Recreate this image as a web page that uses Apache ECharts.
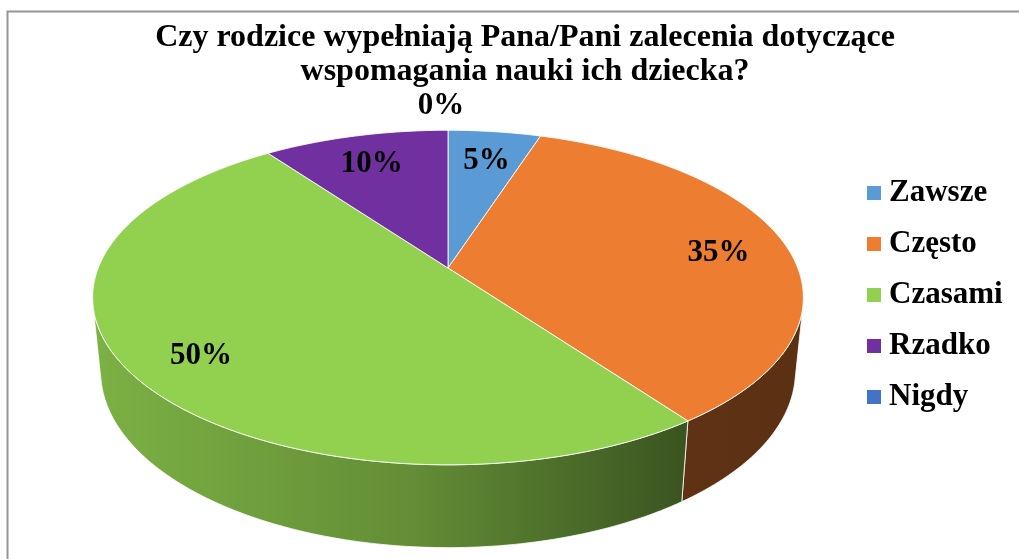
<!DOCTYPE html>
<html>
<head>
<meta charset="utf-8">
<script src="https://cdn.jsdelivr.net/npm/echarts@6/dist/echarts.min.js"></script>
<style>
  html, body { margin: 0; padding: 0; background: #fff; }
  #chart { width: 1019px; height: 559px; }
</style>
</head>
<body>
<div id="chart"></div>
<script>
const categories = ['Zawsze', 'Często', 'Czasami', 'Rzadko', 'Nigdy']
const values = [5, 35, 50, 10, 0]
const colors = ['#5B9BD5', '#ED7D31', '#92D050', '#7030A0', '#4472C4']
const titleText = 'Czy rodzice wypełniają Pana/Pani zalecenia dotyczące\nwspomagania nauki ich dziecka?'

// fake 3d: a disc seen in perspective
const CX = 448, CY = 268, F = 1756, DIST = 5.02, THICK = 0.24
const TILT = 27.6 * Math.PI / 180
const S = Math.sin(TILT), C = Math.cos(TILT)
const VIS0 = Math.acos(-1 / (DIST * C)), VIS1 = 2 * Math.PI - VIS0
const FONT = '"Liberation Serif", "Times New Roman", serif'

function proj(theta, r, h) {
  const px = r * Math.sin(theta), pz = -r * Math.cos(theta)
  const sv = h * C - pz * S
  const depth = DIST - (h * S + pz * C)
  return [CX + F * px / depth, CY - F * sv / depth]
}

const total = values.reduce((a, b) => a + b, 0)
const angles = []
let cum = 0
values.forEach(v => {
  angles.push([cum / total * 2 * Math.PI, (cum + v) / total * 2 * Math.PI])
  cum += v
})

function shade(hex, k) {
  const n = parseInt(hex.slice(1), 16)
  const r = Math.round((n >> 16 & 255) * k), g = Math.round((n >> 8 & 255) * k), b = Math.round((n & 255) * k)
  return 'rgb(' + r + ',' + g + ',' + b + ')'
}

function arc(a, b, r, h) {
  const pts = []
  const n = Math.max(2, Math.ceil((b - a) / (Math.PI / 180)))
  for (let k = 0; k <= n; k++) pts.push(proj(a + (b - a) * k / n, r, h))
  return pts
}

function renderSide(params, api) {
  const i = params.dataIndex
  const a = Math.max(angles[i][0], VIS0), b = Math.min(angles[i][1], VIS1)
  if (b <= a) return null
  const pts = arc(a, b, 1, 0).concat(arc(a, b, 1, -THICK).reverse())
  const fill = new echarts.graphic.LinearGradient(92, 0, 805, 0, [
    {offset: 0, color: shade(colors[i], 0.85)},
    {offset: 0.45, color: shade(colors[i], 0.68)},
    {offset: 0.84, color: shade(colors[i], 0.4)},
    {offset: 1, color: shade(colors[i], 0.38)}
  ], true)
  return {
    type: 'polygon',
    shape: {points: pts},
    style: {fill: fill, stroke: 'rgba(255,255,255,0.8)', lineWidth: 1}
  }
}

function renderTop(params, api) {
  const i = params.dataIndex
  const a = angles[i][0], b = angles[i][1]
  const children = []
  if (b > a) {
    children.push({
      type: 'polygon',
      shape: {points: [proj(0, 0, 0)].concat(arc(a, b, 1, 0))},
      style: {fill: colors[i], stroke: 'rgba(255,255,255,0.85)', lineWidth: 1}
    })
  }
  const mid = (a + b) / 2
  const pos = values[i] > 0 ? proj(mid, 0.8, 0) : proj(mid, 1.2, 0)
  children.push({
    type: 'text',
    z2: 100,
    style: {
      text: Math.round(values[i] / total * 100) + '%',
      x: pos[0] - (values[i] > 0 ? 0 : 7), y: pos[1] + (values[i] > 0 ? 5 : -2),
      align: 'center', verticalAlign: 'middle',
      font: 'bold 31px ' + FONT,
      fill: '#000'
    }
  })
  return {type: 'group', children: children}
}

const chart = echarts.init(document.getElementById('chart'))
chart.setOption({
  animation: false,
  title: {
    text: titleText,
    left: 520,
    top: 16,
    textAlign: 'center',
    textStyle: {fontFamily: FONT, fontWeight: 'bold', fontSize: 32, lineHeight: 34, color: '#000'}
  },
  legend: {
    orient: 'vertical',
    left: 862,
    top: 171,
    icon: 'rect',
    itemWidth: 14,
    itemHeight: 14,
    itemGap: 17,
    data: categories,
    textStyle: {fontFamily: FONT, fontWeight: 'bold', fontSize: 31, lineHeight: 34, color: '#000', padding: [0, 0, 0, 3]}
  },
  graphic: [{
    type: 'polyline',
    silent: true,
    shape: {points: [[7.5, 559], [7.5, 11.5], [1019, 11.5]]},
    style: {stroke: '#959595', lineWidth: 2, fill: null}
  }],
  series: [
    {
      // only feeds the legend
      type: 'pie',
      center: [-200, -200],
      radius: 1,
      silent: true,
      label: {show: false},
      labelLine: {show: false},
      data: categories.map((n, i) => ({name: n, value: values[i], itemStyle: {color: colors[i]}}))
    },
    {
      type: 'custom',
      coordinateSystem: 'none',
      z: 1,
      silent: true,
      renderItem: renderSide,
      data: values
    },
    {
      type: 'custom',
      coordinateSystem: 'none',
      z: 2,
      silent: true,
      renderItem: renderTop,
      data: values
    }
  ]
})
</script>
</body>
</html>
